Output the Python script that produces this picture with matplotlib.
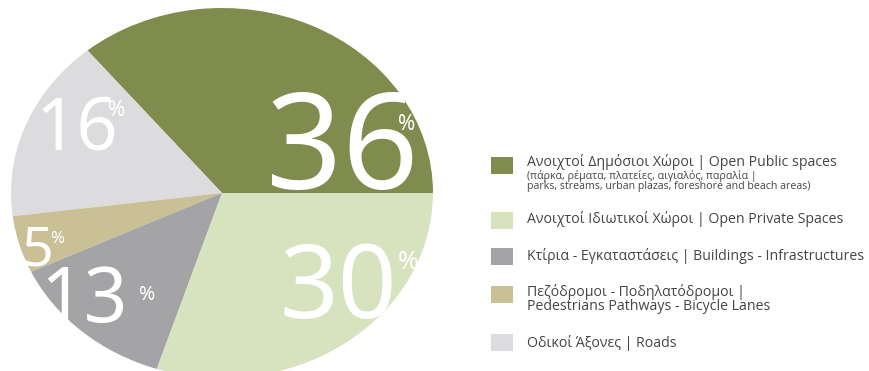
import matplotlib
matplotlib.use("Agg")
import matplotlib.pyplot as plt
from matplotlib.patches import Rectangle

# Land-use shares (percent)
categories = [
    "Ανοιχτοί Δημόσιοι Χώροι | Open Public spaces",
    "Ανοιχτοί Ιδιωτικοί Χώροι | Open Private Spaces",
    "Κτίρια - Εγκαταστάσεις | Buildings - Infrastructures",
    "Πεζόδρομοι - Ποδηλατόδρομοι |\nPedestrians Pathways - Bicycle Lanes",
    "Οδικοί Άξονες | Roads",
]
subtitles = [
    "(πάρκα, ρέματα, πλατείες, αιγιαλός, παραλία |\nparks, streams, urban plazas, foreshore and beach areas)",
    "", "", "", "",
]
values = [36, 30, 13, 5, 16]
colors = ["#808b4e", "#d7e3bf", "#a4a4a6", "#c9c095", "#dcdcde"]

# Slices go counter-clockwise from 3 o'clock in this order
pie_order = [0, 4, 3, 2, 1]

W, H = 870, 371
fig = plt.figure(figsize=(W / 100, H / 100), dpi=100)
fig.patch.set_facecolor("white")

# Pie axes: slightly wider than tall, centred at (222, 193) px from top-left
cx, cy, rx, ry = 222, 193, 211, 185
pax = fig.add_axes([(cx - rx) / W, ((H - cy) - ry) / H, 2 * rx / W, 2 * ry / H])
pax.pie([values[i] for i in pie_order],
        colors=[colors[i] for i in pie_order],
        startangle=0, counterclock=True, radius=1,
        wedgeprops=dict(linewidth=0))
pax.set_aspect("auto")
pax.set_xlim(-1, 1)
pax.set_ylim(-1, 1)
pax.axis("off")

# Overlay axes in pixel coordinates for labels and legend
ax = fig.add_axes([0, 0, 1, 1])
ax.set_xlim(0, W)
ax.set_ylim(H, 0)
ax.axis("off")
ax.patch.set_alpha(0)

num_font = "Noto Sans"
text_font = "Open Sans"

# Big percentage labels: (index, x, baseline y, size, pct x, pct y, pct size)
label_spec = [
    (0, 266, 189, 96, 398, 114, 15),
    (1, 279, 318, 74, 398, 250, 18),
    (2, 40, 322, 55, 139, 285, 14),
    (3, 22, 265, 40, 50, 231, 12),
    (4, 36, 150, 52, 108, 100, 15),
]
for i, x, y, size, px, py, psize in label_spec:
    ax.text(x, y, f"{values[i]}", color="white", fontsize=size,
            family=num_font, ha="left", va="baseline")
    ax.text(px, py, "%", color="white", fontsize=psize, family=num_font,
            ha="left", va="top")

# Legend: swatch centre y and first text line centre y for each entry
swatch_y = [165, 220, 256.5, 294, 342]
text_y = [162, 219, 256, 292, 343]
text_color = "#454545"
for i in range(len(categories)):
    ax.add_patch(Rectangle((491, swatch_y[i] - 8.5), 22, 17,
                           facecolor=colors[i], edgecolor="none"))
    for k, line in enumerate(categories[i].split("\n")):
        ax.text(527, text_y[i] + k * 15, line, fontsize=10.2,
                family=text_font, color=text_color, ha="left", va="center")
    if subtitles[i]:
        for k, line in enumerate(subtitles[i].split("\n")):
            ax.text(527, text_y[i] + 14 + k * 11, line, fontsize=7.7,
                    family=text_font, color=text_color, ha="left",
                    va="center")

fig.savefig("out.png", dpi=100, facecolor="white")
